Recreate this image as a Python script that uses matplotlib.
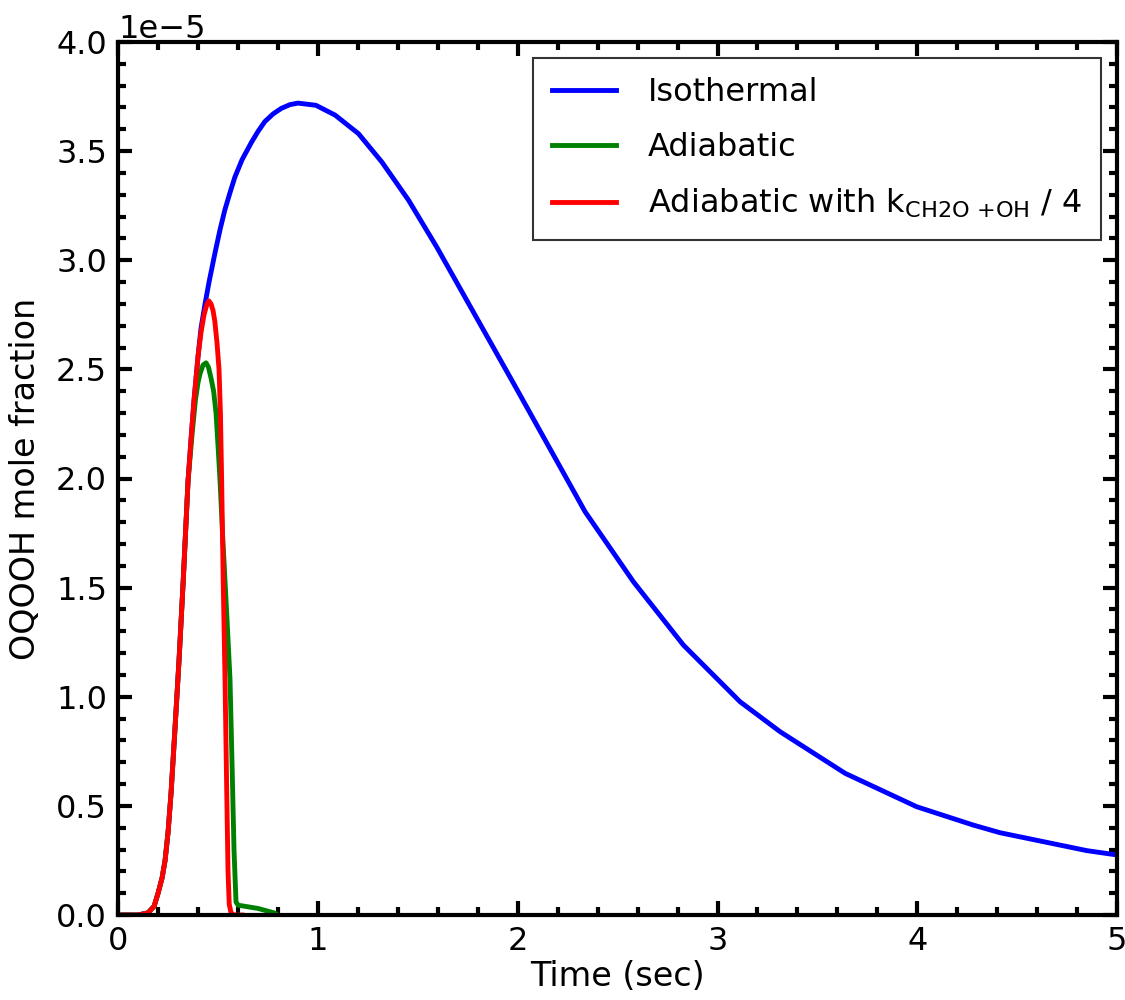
import matplotlib
matplotlib.use("Agg")
import matplotlib.pyplot as plt
from matplotlib.ticker import MultipleLocator

# time (sec) and OQOOH mole fraction (x 1e-5)
t_iso = [0, 0.1, 0.15, 0.18, 0.2, 0.22, 0.235, 0.25, 0.265, 0.285, 0.305,
         0.326, 0.35, 0.365, 0.38, 0.40, 0.415, 0.435, 0.455, 0.484, 0.51,
         0.534, 0.56, 0.584, 0.62, 0.667, 0.70, 0.734, 0.775, 0.817, 0.86,
         0.90, 0.99, 1.086, 1.203, 1.32, 1.453, 1.595, 1.787, 1.979, 2.337,
         2.579, 2.829, 3.113, 3.313, 3.639, 3.997, 4.28, 4.414, 4.848, 5.0]
x_iso = [0, 0, 0.01, 0.04, 0.10, 0.17, 0.25, 0.38, 0.56, 0.86, 1.17,
         1.535, 1.99, 2.18, 2.36, 2.56, 2.69, 2.80, 2.90, 3.03, 3.14,
         3.23, 3.31, 3.38, 3.46, 3.54, 3.59, 3.635, 3.67, 3.696, 3.713,
         3.72, 3.71, 3.665, 3.58, 3.45, 3.276, 3.06, 2.748, 2.436, 1.848,
         1.527, 1.237, 0.977, 0.84, 0.649, 0.496, 0.412, 0.377, 0.295, 0.275]

t_adi = [0, 0.1, 0.15, 0.18, 0.2, 0.22, 0.235, 0.25, 0.265, 0.285, 0.305,
         0.326, 0.35, 0.37, 0.387, 0.40, 0.41, 0.425, 0.44, 0.452, 0.465,
         0.478, 0.49, 0.50, 0.51, 0.522, 0.535, 0.548, 0.56, 0.57, 0.58,
         0.59, 0.60, 0.70, 0.78, 0.80]
x_adi = [0, 0, 0.01, 0.04, 0.10, 0.17, 0.25, 0.38, 0.56, 0.86, 1.17,
         1.535, 1.99, 2.2, 2.36, 2.44, 2.48, 2.52, 2.53, 2.51, 2.46,
         2.40, 2.30, 2.15, 1.99, 1.76, 1.53, 1.3, 1.08, 0.7, 0.3,
         0.06, 0.045, 0.03, 0.01, 0.0]

t_slow = [0, 0.1, 0.15, 0.18, 0.2, 0.22, 0.235, 0.25, 0.265, 0.285, 0.305,
          0.326, 0.35, 0.365, 0.38, 0.40, 0.415, 0.43, 0.445, 0.454, 0.465,
          0.475, 0.484, 0.495, 0.505, 0.512, 0.518, 0.526, 0.535, 0.543,
          0.55, 0.556, 0.565, 0.58, 0.62]
x_slow = [0, 0, 0.01, 0.04, 0.10, 0.17, 0.25, 0.38, 0.56, 0.86, 1.17,
          1.535, 1.99, 2.18, 2.36, 2.56, 2.67, 2.75, 2.80, 2.814, 2.80,
          2.77, 2.72, 2.62, 2.50, 2.30, 2.0, 1.53, 1.08, 0.6,
          0.2, 0.05, 0.01, 0.0, 0.0]

labels = ['Isothermal', 'Adiabatic',
          r'Adiabatic with k$_{\mathrm{CH2O\ {+}OH}}$ / 4']


def scaled(vals):
    return [v * 1e-5 for v in vals]


def main():
    plt.rcParams['font.family'] = ['DejaVu Sans']
    fig = plt.figure(figsize=(11.25, 10), dpi=100)
    ax = fig.add_axes([0.105, 0.085, 0.888, 0.873])

    ax.plot(t_iso, scaled(x_iso), color='blue', lw=3.5, label=labels[0])
    ax.plot(t_adi, scaled(x_adi), color='green', lw=3.5, label=labels[1])
    ax.plot(t_slow, scaled(x_slow), color='red', lw=3.5, label=labels[2])

    ax.set_xlim(0, 5)
    ax.set_ylim(0, 4e-5)
    ax.xaxis.set_major_locator(MultipleLocator(1))
    ax.xaxis.set_minor_locator(MultipleLocator(0.2))
    ax.yaxis.set_major_locator(MultipleLocator(0.5e-5))
    ax.yaxis.set_minor_locator(MultipleLocator(0.1e-5))

    for s in ax.spines.values():
        s.set_linewidth(3)
    ax.tick_params(which='both', direction='in', top=True, right=True,
                   labelsize=23)
    ax.tick_params(which='major', length=10, width=3, pad=8)
    ax.tick_params(which='minor', length=6, width=3)
    ax.yaxis.get_offset_text().set_fontsize(23)

    ax.set_xlabel('Time (sec)', fontsize=24, labelpad=2)
    ax.set_ylabel('OQOOH mole fraction', fontsize=24, labelpad=10)

    leg = ax.legend(loc='upper right', fontsize=23, fancybox=False,
                    edgecolor='black', handlelength=2.0, borderpad=0.6,
                    labelspacing=0.75, borderaxespad=0.5, handletextpad=1.0)
    leg.get_frame().set_linewidth(1.5)

    fig.savefig('out.png', dpi=100)


if __name__ == '__main__':
    main()
